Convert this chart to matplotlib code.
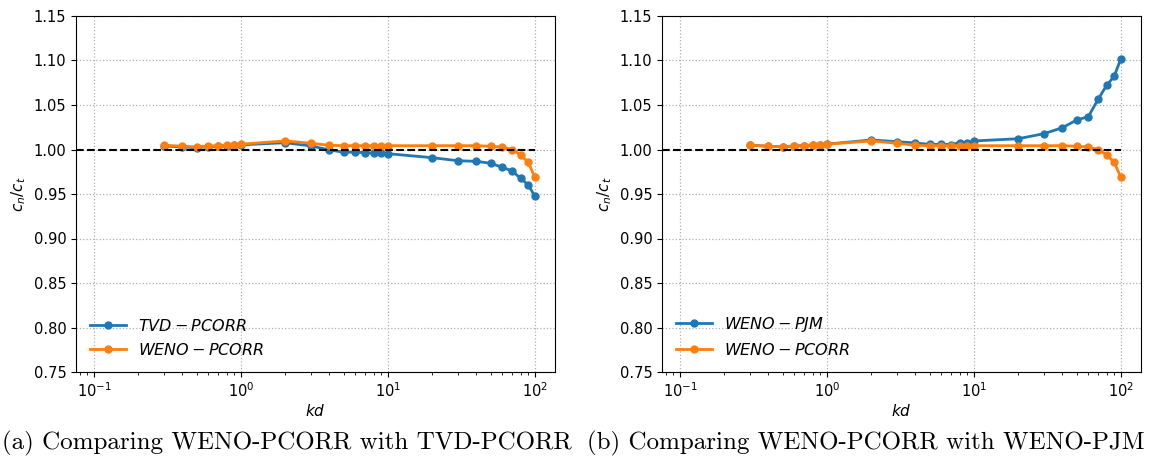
import matplotlib
matplotlib.use("Agg")
import matplotlib.pyplot as plt

kd = [0.3, 0.4, 0.5, 0.6, 0.7, 0.8, 0.9, 1.0,
      2, 3, 4, 5, 6, 7, 8, 9, 10,
      20, 30, 40, 50, 60, 70, 80, 90, 100]

weno_pcorr = [1.0049, 1.0036, 1.0030, 1.0040, 1.0043, 1.0050, 1.0054, 1.0060,
              1.0096, 1.0070, 1.0047, 1.0043, 1.0043, 1.0043, 1.0043, 1.0043, 1.0043,
              1.0043, 1.0043, 1.0043, 1.0036, 1.0028, 1.0000, 0.9940, 0.9856, 0.9687]

tvd_pcorr = [1.0040, 1.0028, 1.0022, 1.0032, 1.0035, 1.0042, 1.0046, 1.0052,
             1.0076, 1.0040, 0.9995, 0.9970, 0.9970, 0.9965, 0.9960, 0.9958, 0.9953,
             0.9908, 0.9874, 0.9867, 0.9845, 0.9800, 0.9758, 0.9676, 0.9604, 0.9474]

weno_pjm = [1.0049, 1.0036, 1.0030, 1.0040, 1.0043, 1.0050, 1.0054, 1.0060,
            1.0107, 1.0088, 1.0073, 1.0058, 1.0058, 1.0056, 1.0076, 1.0073, 1.0096,
            1.0121, 1.0178, 1.0245, 1.0331, 1.0369, 1.0564, 1.0721, 1.0823, 1.1020]

ref_x = [0.0755, 100]
ref_y = [1.0, 1.0]

yticks = [0.75, 0.80, 0.85, 0.90, 0.95, 1.00, 1.05, 1.10, 1.15]

captions = ["(a) Comparing WENO-PCORR with TVD-PCORR",
            "(b) Comparing WENO-PCORR with WENO-PJM"]

panels = [
    (tvd_pcorr, "$TVD-PCORR$"),
    (weno_pjm, "$WENO-PJM$"),
]

fig = plt.figure(figsize=(11.51, 4.68), dpi=100)
lefts = [76 / 1151, 662 / 1151]
cap_x = [2 / 1151, 587 / 1151]
for i, (series, lab) in enumerate(panels):
    ax = fig.add_axes([lefts[i], 96 / 468, 479 / 1151, 356 / 468])
    ax.plot(kd, series, "-o", color="#1f77b4", lw=2, ms=5, label=lab)
    ax.plot(kd, weno_pcorr, "-o", color="#ff7f0e", lw=2, ms=5, label="$WENO-PCORR$")
    ax.plot(ref_x, ref_y, "--", color="black", lw=1.5)
    ax.set_xscale("log")
    ax.set_xlim(0.0755, 137)
    ax.set_ylim(0.75, 1.15)
    ax.set_yticks(yticks)
    ax.set_yticklabels([f"{v:.2f}" for v in yticks])
    ax.grid(True, which="major", linestyle=":", color="#b0b0b0", lw=0.9)
    ax.tick_params(labelsize=10.5)
    ax.set_xlabel("$kd$", fontsize=11, labelpad=2)
    ax.set_ylabel("$c_n/c_t$", fontsize=11)
    ax.legend(loc="lower left", frameon=False, fontsize=11.5, handlelength=2.2)
    fig.text(cap_x[i], 25 / 468, captions[i], family="cmr10",
             fontsize=18.0, ha="left", va="center")

fig.savefig("out.png", dpi=100)
